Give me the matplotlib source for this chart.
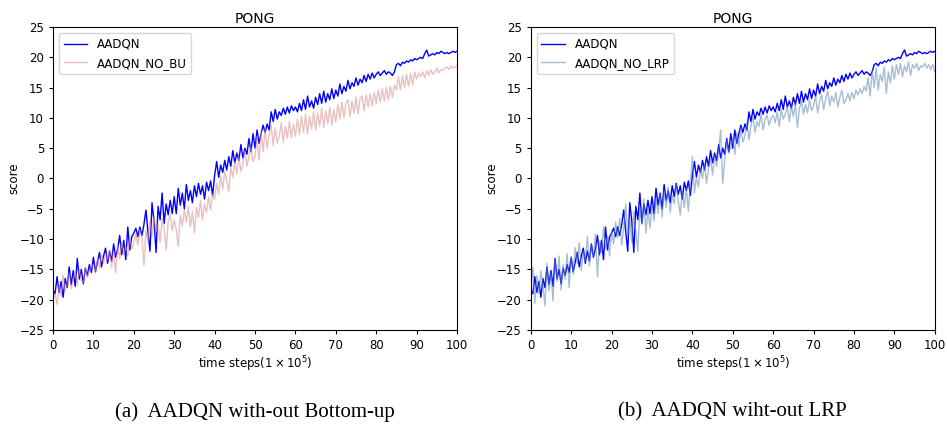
import numpy as np
import matplotlib.pyplot as plt

# time steps (x 1e5), one reading every 0.5
steps = np.arange(0, 100.5, 0.5)

# AADQN score (same run in both panels)
aadqn = [
    -18.5, -19.0, -16.2, -18.8, -17.0, -19.6, -16.5, -18.0, -14.6, -17.5, -15.2, -17.8, -13.2, -16.6, -15.0, -17.4, -14.8, -16.0, -14.2, -15.5,
    -13.0, -15.4, -13.8, -12.2, -14.6, -12.8, -11.5, -14.0, -12.0, -13.6, -10.8, -13.0, -11.6, -9.4, -12.6, -10.2, -13.4, -8.0, -11.8, -9.6,
    -9.0, -8.2, -9.6, -8.0, -9.4, -7.6, -5.2, -8.8, -12.0, -4.0, -7.0, -12.2, -4.6, -6.8, -2.4, -7.4, -4.2, -6.0, -3.6, -5.8,
    -3.0, -5.8, -1.6, -4.4, -2.4, -5.0, -1.0, -3.6, -2.0, -4.0, -1.2, -3.0, -0.8, -2.6, -1.2, -3.4, -0.6, -2.0, -0.4, -2.8,
    0.5, 2.8, 0.2, 2.2, 1.0, 3.0, 1.4, 3.6, 2.0, 4.6, 2.6, 4.2, 3.0, 5.6, 3.4, 5.0, 4.0, 6.6, 4.4, 7.4,
    5.0, 8.0, 5.8, 7.4, 8.8, 7.6, 9.0, 8.0, 11.0, 9.4, 11.4, 9.8, 11.0, 10.4, 11.6, 10.6, 11.8, 10.8, 12.0, 11.2,
    11.8, 11.0, 12.4, 11.2, 13.0, 11.4, 13.6, 11.8, 12.8, 11.6, 13.4, 12.2, 14.0, 12.4, 14.4, 12.6, 14.0, 13.0, 14.8, 13.2,
    14.6, 13.6, 15.6, 14.0, 15.2, 14.4, 16.2, 14.8, 15.8, 15.2, 16.6, 15.4, 16.4, 15.8, 17.0, 16.0, 17.2, 16.4, 17.4, 16.6,
    17.2, 17.6, 17.0, 17.4, 17.8, 17.2, 17.6, 17.4, 17.0, 17.6, 18.8, 19.0, 18.6, 19.2, 19.0, 19.4, 19.2, 19.6, 19.4, 19.8,
    19.6, 19.8, 20.0, 19.8, 20.6, 21.2, 20.2, 20.4, 20.6, 20.4, 20.8, 20.6, 21.0, 20.8, 20.6, 20.8, 20.6, 20.8, 21.0, 20.8,
    21.0,
]

# AADQN without bottom-up
no_bu = [
    -20.0, -19.0, -20.8, -17.6, -19.4, -16.0, -18.6, -17.4, -15.6, -18.2, -16.8, -15.4, -17.6, -15.0, -16.8, -17.2, -14.6, -16.4, -15.2, -14.6,
    -14.2, -15.6, -13.0, -14.8, -12.6, -14.0, -12.4, -13.4, -11.8, -14.6, -12.0, -15.6, -11.0, -13.2, -10.6, -12.4, -11.2, -12.8, -10.0, -11.6,
    -10.6, -9.2, -11.0, -8.4, -9.8, -14.4, -8.6, -10.4, -7.0, -9.6, -6.2, -8.8, -7.4, -10.6, -6.6, -8.2, -11.8, -7.0, -6.0, -8.6,
    -6.8, -8.4, -11.2, -6.0, -7.8, -5.2, -7.2, -4.6, -8.0, -5.4, -9.0, -4.8, -6.4, -3.6, -6.8, -4.2, -5.6, -3.0, -5.2, -2.6,
    -3.4, -0.8, -2.6, 0.4, -1.8, 1.2, -0.4, -2.2, 1.8, 0.2, 2.8, 0.8, 3.6, 1.2, 2.4, 4.6, 2.0, 3.8, 5.2, 2.8,
    3.6, 7.0, 3.0, 7.8, 4.4, 8.2, 5.0, 7.2, 8.8, 5.4, 8.4, 5.8, 7.0, 9.2, 6.0, 8.6, 6.6, 9.4, 6.8, 9.0,
    7.0, 9.8, 7.2, 10.2, 7.6, 10.6, 7.4, 10.2, 8.2, 11.0, 8.0, 10.8, 8.6, 11.6, 8.4, 11.2, 9.0, 11.8, 8.8, 11.4,
    9.4, 12.2, 9.8, 12.6, 10.0, 12.4, 13.0, 10.2, 12.8, 10.8, 13.4, 10.6, 13.2, 13.6, 11.2, 13.8, 11.8, 14.0, 12.0, 14.2,
    12.4, 14.6, 12.6, 14.8, 12.8, 15.0, 13.0, 15.2, 13.4, 15.4, 14.6, 16.8, 14.6, 17.0, 15.0, 17.2, 15.2, 17.4, 15.4, 17.6,
    16.4, 17.4, 16.8, 17.6, 16.6, 17.8, 17.0, 18.0, 17.2, 17.6, 18.2, 17.4, 18.0, 17.8, 18.2, 18.4, 18.0, 18.6, 18.2, 18.4,
    18.6,
]

# AADQN without LRP
no_lrp = [
    -18.0, -14.6, -20.6, -16.0, -19.0, -15.2, -17.6, -21.0, -14.0, -18.6, -15.6, -20.2, -13.4, -17.0, -12.8, -18.4, -14.2, -16.6, -12.4, -18.0,
    -13.0, -15.8, -11.4, -14.0, -10.6, -15.2, -12.0, -13.6, -9.6, -14.4, -11.0, -12.8, -9.2, -16.2, -10.4, -12.2, -8.0, -11.6, -9.6, -12.8,
    -8.6, -10.8, -7.2, -9.8, -6.6, -11.0, -8.0, -4.2, -9.4, -6.6, -10.6, -5.4, -8.8, -12.0, -4.8, -7.6, -3.4, -9.0, -5.2, -8.2,
    -4.4, -7.0, -3.2, -5.8, -2.6, -6.4, -2.0, -4.8, -1.4, -5.6, -2.8, -4.2, -1.0, -3.6, -6.0, -2.2, -4.8, -1.6, -5.4, -0.8,
    3.6, -2.4, 0.2, -1.4, 1.6, 0.0, 2.4, -0.8, 1.8, 3.2, 0.6, 3.8, 2.0, 4.6, 8.0, -0.8, 3.0, 6.4, 4.2, 5.0,
    6.8, 4.0, 7.6, 5.2, 8.4, 6.0, 7.0, 9.2, 6.4, 8.8, 10.2, 7.6, 9.4, 8.6, 10.6, 8.0, 9.8, 10.4, 8.8, 10.0,
    10.4, 9.2, 11.0, 8.6, 11.4, 9.8, 10.6, 11.8, 9.4, 12.0, 10.2, 12.4, 8.4, 11.6, 12.8, 10.6, 12.2, 10.8, 13.0, 11.2,
    12.0, 13.6, 10.8, 12.8, 13.8, 11.4, 13.2, 14.4, 12.0, 13.6, 12.6, 14.2, 11.8, 13.4, 14.6, 12.4, 13.0, 14.0, 12.8, 14.2,
    13.2, 14.6, 13.8, 14.8, 14.0, 15.2, 14.4, 16.6, 13.6, 17.8, 15.0, 18.2, 14.6, 17.2, 16.0, 18.4, 14.0, 17.6, 15.8, 18.6,
    16.4, 18.8, 17.2, 19.0, 16.8, 18.6, 17.6, 19.2, 17.0, 18.8, 18.2, 19.0, 17.8, 18.6, 18.4, 19.0, 18.2, 18.8, 18.0, 18.8,
    17.6,
]

panels = [
    ('AADQN_NO_BU', no_bu, '#d98c8c', '(a)  AADQN with-out Bottom-up'),
    ('AADQN_NO_LRP', no_lrp, '#5f86b3', '(b)  AADQN wiht-out LRP'),
]
lefts = [0.056, 0.5605]

fig = plt.figure(figsize=(9.47, 4.26), dpi=100)

for left, (name, vals, col, caption) in zip(lefts, panels):
    ax = fig.add_axes([left, 0.2254, 0.4266, 0.7112])
    ax.plot(steps, aadqn, color='blue', lw=1, label='AADQN')
    ax.plot(steps, vals, color=col, lw=1, alpha=0.55, label=name)
    ax.set_xlim(0, 100)
    ax.set_ylim(-25, 25)
    ax.set_xticks(range(0, 101, 10))
    ax.set_yticks(range(-25, 26, 5))
    ax.tick_params(labelsize=8.5, length=3)
    ax.set_title('PONG', fontsize=10, pad=3)
    ax.set_xlabel(r'time steps($1\times10^5$)', fontsize=8.5, labelpad=2)
    ax.set_ylabel('score', fontsize=8.5, labelpad=-1)
    ax.legend(loc='upper left', fontsize=8.5)
    fig.text(left + 0.2133, 0.033, caption, ha='center', va='center',
             family='Liberation Serif', fontsize=15)

fig.savefig('out.png', dpi=100)
